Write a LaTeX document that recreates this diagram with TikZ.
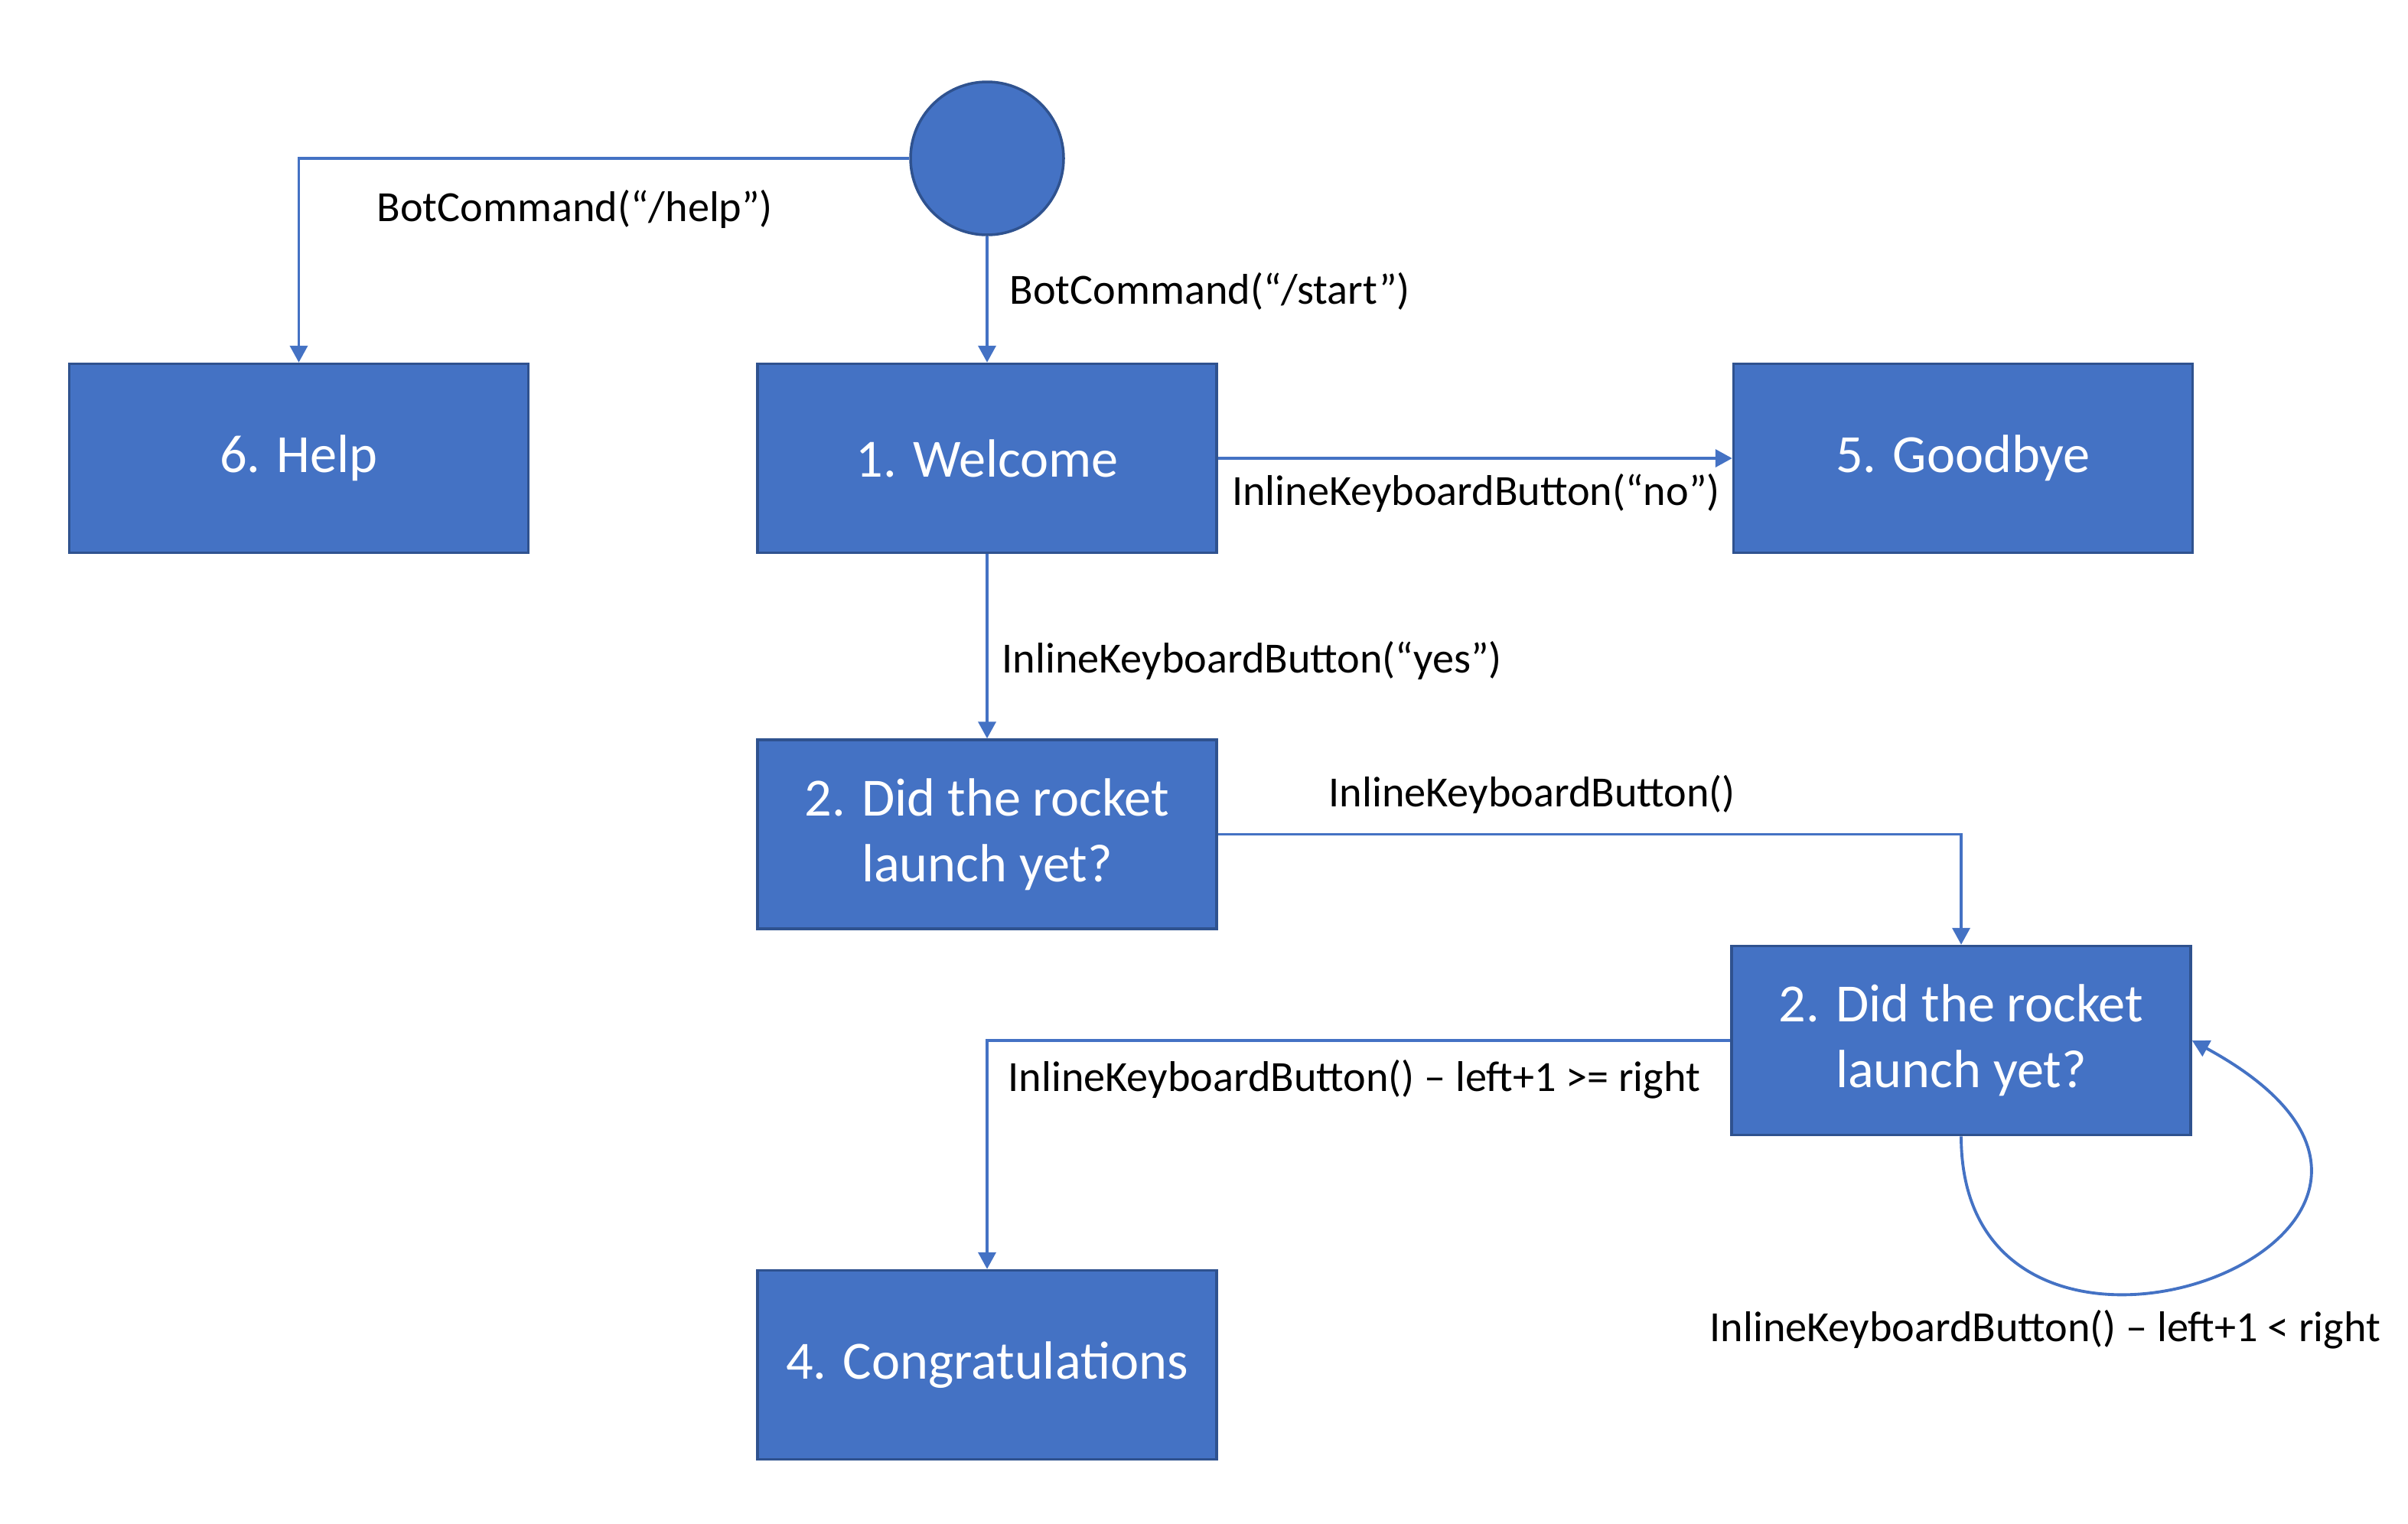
\documentclass[tikz,border=0pt]{standalone}
\usepackage{fontspec}
\setmainfont{Carlito}
\usetikzlibrary{positioning}
\usetikzlibrary{arrows.meta}
\definecolor{boxblue}{HTML}{4472C4}
\definecolor{boxedge}{HTML}{2F528F}

\begin{document}
\begin{tikzpicture}[state/.style = {rectangle,draw=boxedge,fill=boxblue,line width=1pt,minimum width=6cm,minimum height=2.47cm,text=white,align=center,font=\fontsize{20}{24.5}\selectfont},
    trans/.style = {draw=boxblue,line width=1.1pt,-{Triangle[width=2.3mm,length=2.2mm]}},
    tlabel/.style = {anchor=west,inner sep=0pt,font=\fontsize{16}{19}\selectfont}]
\useasboundingbox (0,0) rectangle (31.47,-19.91);
\node [circle,draw=boxedge,fill=boxblue,line width=1pt,minimum size=2cm,inner sep=0pt] (init) at (12.9,-2.07) {};
\node [state] (welcome) at (12.9,-5.99) {1. Welcome};
\node [state, left=2.96cm of welcome] (help) {6. Help};
\node [state, right=6.72cm of welcome] (goodbye) {5. Goodbye};
\node [state, below=2.41cm of welcome] (ask) {2. Did the rocket\\launch yet?};
\node [state] (askagain) at (25.63,-13.6) {2. Did the rocket\\launch yet?};
\node [state, below=4.43cm of ask] (congrats) {4. Congratulations};
\node [tlabel] (helplbl) at (4.92,-2.73) {BotCommand(“/help”)};
\node [tlabel] (startlbl) at (13.19,-3.81) {BotCommand(“/start”)};
\node [tlabel,anchor=center] (nolbl) at (19.29,-6.44) {InlineKeyboardButton(“no”)};
\node [tlabel] (yeslbl) at (13.09,-8.63) {InlineKeyboardButton(“yes”)};
\node [tlabel] (asklbl) at (17.36,-10.38) {InlineKeyboardButton()};
\node [tlabel] (congratslbl) at (13.17,-14.11) {InlineKeyboardButton() – left+1 >= right};
\node [tlabel] (looplbl) at (22.34,-17.38) {InlineKeyboardButton() – left+1 < right};
\draw [trans] (init) -- (welcome);
\draw [trans] (init.west) -| (help.north);
\draw [trans] (welcome) -- (goodbye);
\draw [trans] (welcome) -- (ask);
\draw [trans] (ask.east) -| (askagain.north);
\draw [trans] (askagain.west) -| (congrats.north);
\draw [trans] (askagain.south) .. controls +(0,-4.1) and +(4.6,-2.5) .. (askagain.east);
\end{tikzpicture}
\end{document}
